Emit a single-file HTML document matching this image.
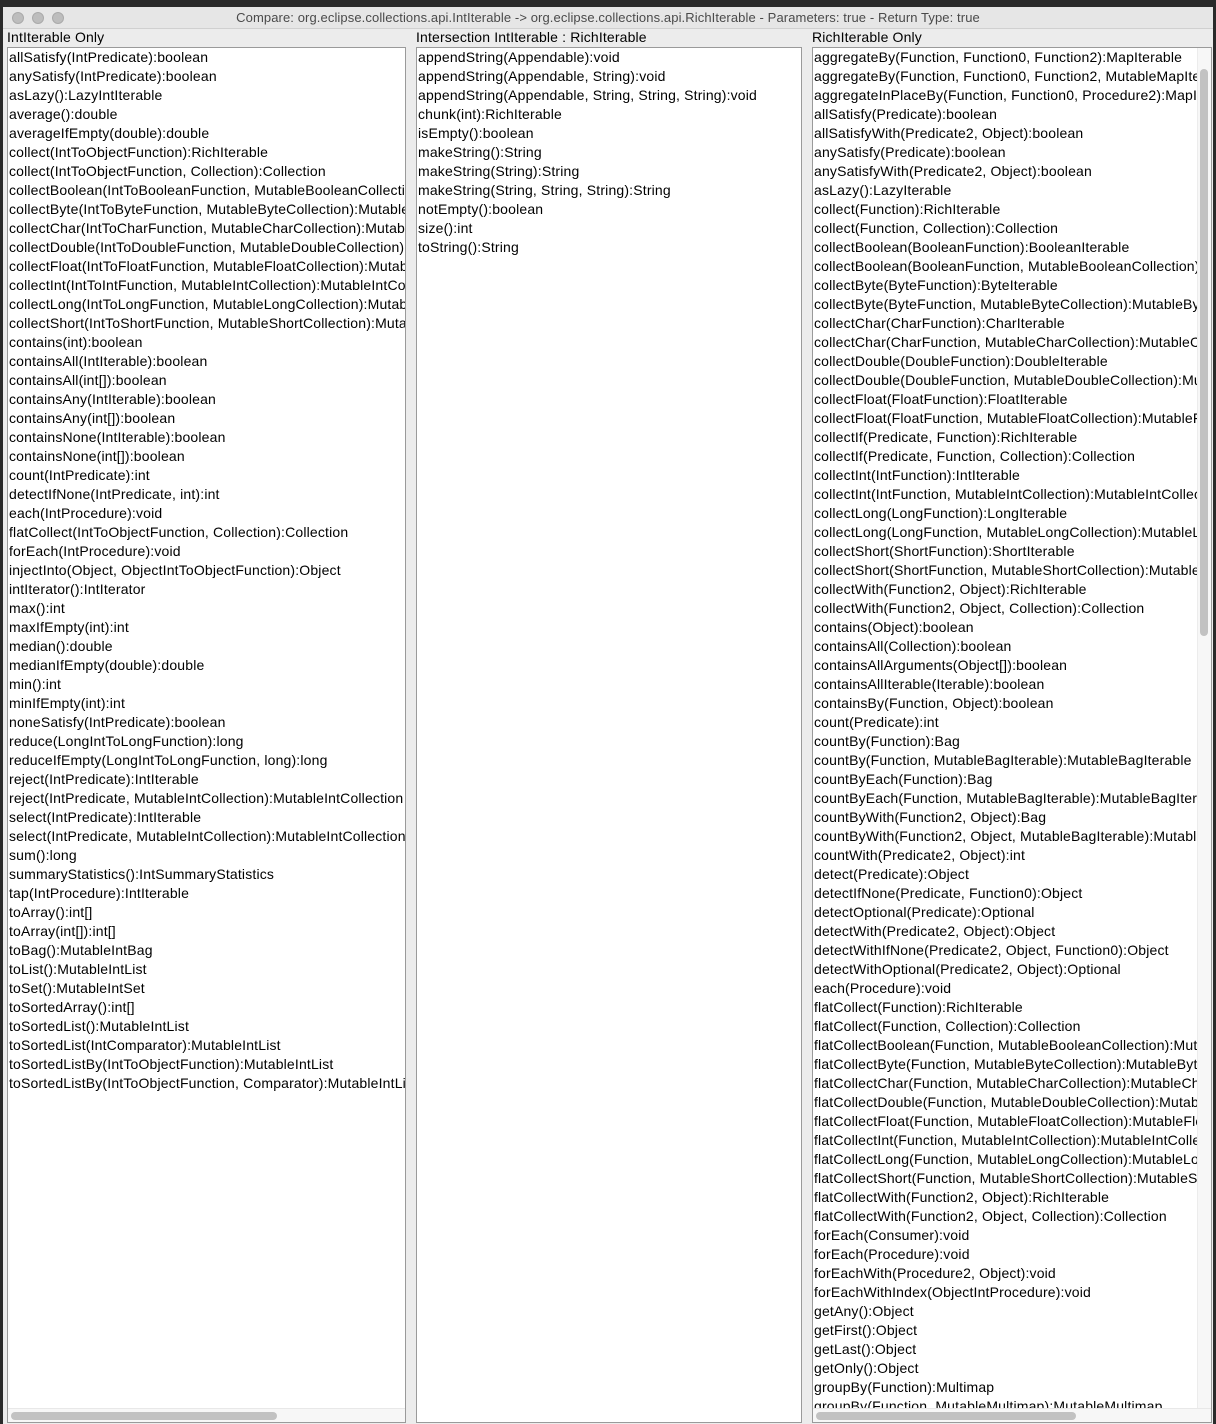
<!DOCTYPE html>
<html><head><meta charset="utf-8"><style>
*{margin:0;padding:0;box-sizing:border-box}
body{width:1216px;height:1424px;background:#2a2a2a;position:relative;overflow:hidden;font-family:"Liberation Sans",sans-serif;font-size:14px;color:#000}
.win{position:absolute;left:3px;top:7px;width:1210px;height:1417px;background:#ececec}
.title{position:absolute;left:0;top:0;width:1210px;height:22px;background:#e6e6e6;border-bottom:1px solid #d0d0d0;text-align:center;font-size:13px;line-height:22px;color:#4a4a4a;letter-spacing:0.1px}
.dot{position:absolute;top:5px;width:12px;height:12px;border-radius:50%;background:#bdbdbd;border:1px solid #aaa}
.hdr{position:absolute;top:22px;font-size:14px;line-height:16px;letter-spacing:0.15px}
.panel{position:absolute;top:40px;height:1376px;background:#fff;border:1px solid #9a9a9a;overflow:hidden}
.panel div.l{white-space:nowrap;line-height:19px;letter-spacing:0.17px}
.list{position:absolute;left:1px;top:0px}
.hs{position:absolute;bottom:0;left:0;right:0;height:14px;background:#f7f7f7;border-top:1px solid #e8e8e8}
.th{position:absolute;top:3px;height:8px;border-radius:4px;background:#c2c2c2}
.vs{position:absolute;right:0;top:0;width:14px;bottom:14px;background:#f7f7f7;border-left:1px solid #ececec}
</style></head><body>
<div class="win">
<div class="title">Compare: org.eclipse.collections.api.IntIterable -&gt; org.eclipse.collections.api.RichIterable - Parameters: true - Return Type: true
<div class="dot" style="left:9px"></div><div class="dot" style="left:29px"></div><div class="dot" style="left:49px"></div></div>
<div class="hdr" style="left:4px">IntIterable Only</div>
<div class="hdr" style="left:413px">Intersection IntIterable : RichIterable</div>
<div class="hdr" style="left:809px">RichIterable Only</div>

<div class="panel" style="left:4px;width:399px"><div class="list">
<div class="l">allSatisfy(IntPredicate):boolean</div>
<div class="l">anySatisfy(IntPredicate):boolean</div>
<div class="l">asLazy():LazyIntIterable</div>
<div class="l">average():double</div>
<div class="l">averageIfEmpty(double):double</div>
<div class="l">collect(IntToObjectFunction):RichIterable</div>
<div class="l">collect(IntToObjectFunction, Collection):Collection</div>
<div class="l">collectBoolean(IntToBooleanFunction, MutableBooleanCollection):MutableBooleanCollection</div>
<div class="l">collectByte(IntToByteFunction, MutableByteCollection):MutableByteCollection</div>
<div class="l">collectChar(IntToCharFunction, MutableCharCollection):MutableCharCollection</div>
<div class="l">collectDouble(IntToDoubleFunction, MutableDoubleCollection):MutableDoubleCollection</div>
<div class="l">collectFloat(IntToFloatFunction, MutableFloatCollection):MutableFloatCollection</div>
<div class="l">collectInt(IntToIntFunction, MutableIntCollection):MutableIntCollection</div>
<div class="l">collectLong(IntToLongFunction, MutableLongCollection):MutableLongCollection</div>
<div class="l">collectShort(IntToShortFunction, MutableShortCollection):MutableShortCollection</div>
<div class="l">contains(int):boolean</div>
<div class="l">containsAll(IntIterable):boolean</div>
<div class="l">containsAll(int[]):boolean</div>
<div class="l">containsAny(IntIterable):boolean</div>
<div class="l">containsAny(int[]):boolean</div>
<div class="l">containsNone(IntIterable):boolean</div>
<div class="l">containsNone(int[]):boolean</div>
<div class="l">count(IntPredicate):int</div>
<div class="l">detectIfNone(IntPredicate, int):int</div>
<div class="l">each(IntProcedure):void</div>
<div class="l">flatCollect(IntToObjectFunction, Collection):Collection</div>
<div class="l">forEach(IntProcedure):void</div>
<div class="l">injectInto(Object, ObjectIntToObjectFunction):Object</div>
<div class="l">intIterator():IntIterator</div>
<div class="l">max():int</div>
<div class="l">maxIfEmpty(int):int</div>
<div class="l">median():double</div>
<div class="l">medianIfEmpty(double):double</div>
<div class="l">min():int</div>
<div class="l">minIfEmpty(int):int</div>
<div class="l">noneSatisfy(IntPredicate):boolean</div>
<div class="l">reduce(LongIntToLongFunction):long</div>
<div class="l">reduceIfEmpty(LongIntToLongFunction, long):long</div>
<div class="l">reject(IntPredicate):IntIterable</div>
<div class="l">reject(IntPredicate, MutableIntCollection):MutableIntCollection</div>
<div class="l">select(IntPredicate):IntIterable</div>
<div class="l">select(IntPredicate, MutableIntCollection):MutableIntCollection</div>
<div class="l">sum():long</div>
<div class="l">summaryStatistics():IntSummaryStatistics</div>
<div class="l">tap(IntProcedure):IntIterable</div>
<div class="l">toArray():int[]</div>
<div class="l">toArray(int[]):int[]</div>
<div class="l">toBag():MutableIntBag</div>
<div class="l">toList():MutableIntList</div>
<div class="l">toSet():MutableIntSet</div>
<div class="l">toSortedArray():int[]</div>
<div class="l">toSortedList():MutableIntList</div>
<div class="l">toSortedList(IntComparator):MutableIntList</div>
<div class="l">toSortedListBy(IntToObjectFunction):MutableIntList</div>
<div class="l">toSortedListBy(IntToObjectFunction, Comparator):MutableIntList</div>
</div><div class="hs"><div class="th" style="left:3px;width:266px"></div></div></div>

<div class="panel" style="left:413px;width:386px"><div class="list">
<div class="l">appendString(Appendable):void</div>
<div class="l">appendString(Appendable, String):void</div>
<div class="l">appendString(Appendable, String, String, String):void</div>
<div class="l">chunk(int):RichIterable</div>
<div class="l">isEmpty():boolean</div>
<div class="l">makeString():String</div>
<div class="l">makeString(String):String</div>
<div class="l">makeString(String, String, String):String</div>
<div class="l">notEmpty():boolean</div>
<div class="l">size():int</div>
<div class="l">toString():String</div>
</div></div>

<div class="panel" style="left:809px;width:400px"><div class="list">
<div class="l">aggregateBy(Function, Function0, Function2):MapIterable</div>
<div class="l">aggregateBy(Function, Function0, Function2, MutableMapIterable):MutableMapIterable</div>
<div class="l">aggregateInPlaceBy(Function, Function0, Procedure2):MapIterable</div>
<div class="l">allSatisfy(Predicate):boolean</div>
<div class="l">allSatisfyWith(Predicate2, Object):boolean</div>
<div class="l">anySatisfy(Predicate):boolean</div>
<div class="l">anySatisfyWith(Predicate2, Object):boolean</div>
<div class="l">asLazy():LazyIterable</div>
<div class="l">collect(Function):RichIterable</div>
<div class="l">collect(Function, Collection):Collection</div>
<div class="l">collectBoolean(BooleanFunction):BooleanIterable</div>
<div class="l">collectBoolean(BooleanFunction, MutableBooleanCollection):MutableBooleanCollection</div>
<div class="l">collectByte(ByteFunction):ByteIterable</div>
<div class="l">collectByte(ByteFunction, MutableByteCollection):MutableByteCollection</div>
<div class="l">collectChar(CharFunction):CharIterable</div>
<div class="l">collectChar(CharFunction, MutableCharCollection):MutableCharCollection</div>
<div class="l">collectDouble(DoubleFunction):DoubleIterable</div>
<div class="l">collectDouble(DoubleFunction, MutableDoubleCollection):MutableDoubleCollection</div>
<div class="l">collectFloat(FloatFunction):FloatIterable</div>
<div class="l">collectFloat(FloatFunction, MutableFloatCollection):MutableFloatCollection</div>
<div class="l">collectIf(Predicate, Function):RichIterable</div>
<div class="l">collectIf(Predicate, Function, Collection):Collection</div>
<div class="l">collectInt(IntFunction):IntIterable</div>
<div class="l">collectInt(IntFunction, MutableIntCollection):MutableIntCollection</div>
<div class="l">collectLong(LongFunction):LongIterable</div>
<div class="l">collectLong(LongFunction, MutableLongCollection):MutableLongCollection</div>
<div class="l">collectShort(ShortFunction):ShortIterable</div>
<div class="l">collectShort(ShortFunction, MutableShortCollection):MutableShortCollection</div>
<div class="l">collectWith(Function2, Object):RichIterable</div>
<div class="l">collectWith(Function2, Object, Collection):Collection</div>
<div class="l">contains(Object):boolean</div>
<div class="l">containsAll(Collection):boolean</div>
<div class="l">containsAllArguments(Object[]):boolean</div>
<div class="l">containsAllIterable(Iterable):boolean</div>
<div class="l">containsBy(Function, Object):boolean</div>
<div class="l">count(Predicate):int</div>
<div class="l">countBy(Function):Bag</div>
<div class="l">countBy(Function, MutableBagIterable):MutableBagIterable</div>
<div class="l">countByEach(Function):Bag</div>
<div class="l">countByEach(Function, MutableBagIterable):MutableBagIterable</div>
<div class="l">countByWith(Function2, Object):Bag</div>
<div class="l">countByWith(Function2, Object, MutableBagIterable):MutableBagIterable</div>
<div class="l">countWith(Predicate2, Object):int</div>
<div class="l">detect(Predicate):Object</div>
<div class="l">detectIfNone(Predicate, Function0):Object</div>
<div class="l">detectOptional(Predicate):Optional</div>
<div class="l">detectWith(Predicate2, Object):Object</div>
<div class="l">detectWithIfNone(Predicate2, Object, Function0):Object</div>
<div class="l">detectWithOptional(Predicate2, Object):Optional</div>
<div class="l">each(Procedure):void</div>
<div class="l">flatCollect(Function):RichIterable</div>
<div class="l">flatCollect(Function, Collection):Collection</div>
<div class="l">flatCollectBoolean(Function, MutableBooleanCollection):MutableBooleanCollection</div>
<div class="l">flatCollectByte(Function, MutableByteCollection):MutableByteCollection</div>
<div class="l">flatCollectChar(Function, MutableCharCollection):MutableCharCollection</div>
<div class="l">flatCollectDouble(Function, MutableDoubleCollection):MutableDoubleCollection</div>
<div class="l">flatCollectFloat(Function, MutableFloatCollection):MutableFloatCollection</div>
<div class="l">flatCollectInt(Function, MutableIntCollection):MutableIntCollection</div>
<div class="l">flatCollectLong(Function, MutableLongCollection):MutableLongCollection</div>
<div class="l">flatCollectShort(Function, MutableShortCollection):MutableShortCollection</div>
<div class="l">flatCollectWith(Function2, Object):RichIterable</div>
<div class="l">flatCollectWith(Function2, Object, Collection):Collection</div>
<div class="l">forEach(Consumer):void</div>
<div class="l">forEach(Procedure):void</div>
<div class="l">forEachWith(Procedure2, Object):void</div>
<div class="l">forEachWithIndex(ObjectIntProcedure):void</div>
<div class="l">getAny():Object</div>
<div class="l">getFirst():Object</div>
<div class="l">getLast():Object</div>
<div class="l">getOnly():Object</div>
<div class="l">groupBy(Function):Multimap</div>
<div class="l">groupBy(Function, MutableMultimap):MutableMultimap</div>
</div><div class="vs"><div class="th" style="left:2px;top:21px;width:8px;height:567px"></div></div>
<div class="hs"><div class="th" style="left:3px;width:260px"></div></div></div>
</div>
</body></html>
